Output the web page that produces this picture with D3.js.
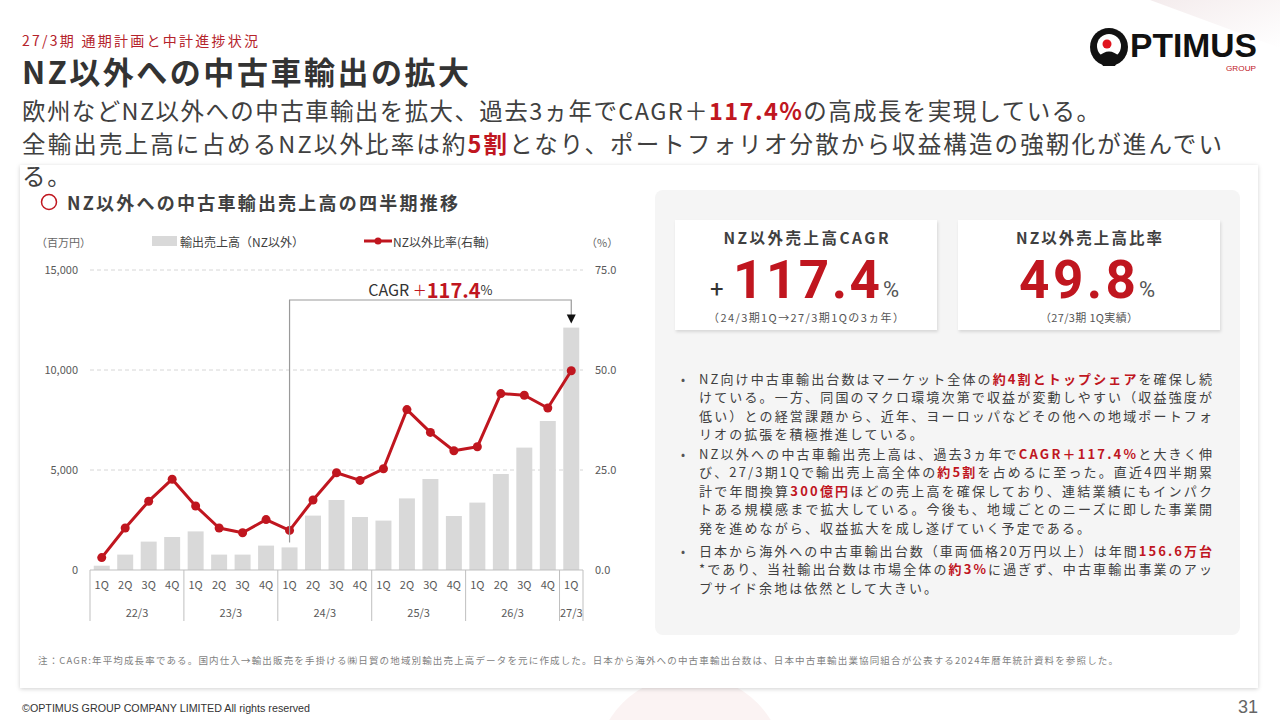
<!DOCTYPE html>
<html><head><meta charset="utf-8">
<script src="https://cdn.jsdelivr.net/npm/d3@7/dist/d3.min.js"></script>
<style>
html,body{margin:0;padding:0;background:#fff;}
svg{display:block;font-family:"Noto Sans CJK JP","Noto Sans",sans-serif;}
</style></head><body>
<svg id="c" width="1280" height="720"></svg>
<script>
// ---------- DATA ----------
const periodYear = ["22/3","22/3","22/3","22/3","23/3","23/3","23/3","23/3","24/3","24/3","24/3","24/3","25/3","25/3","25/3","25/3","26/3","26/3","26/3","26/3","27/3"];
const periodQuarter = ["1Q","2Q","3Q","4Q","1Q","2Q","3Q","4Q","1Q","2Q","3Q","4Q","1Q","2Q","3Q","4Q","1Q","2Q","3Q","4Q","1Q"];
const salesNonNZ = [215, 770, 1420, 1650, 1930, 770, 770, 1220, 1130, 2720, 3500, 2650, 2470, 3580, 4550, 2700, 3370, 4800, 6120, 7450, 12120];
const ratioNonNZ = [3.1, 10.5, 17.2, 22.7, 16.0, 10.5, 9.3, 12.6, 9.9, 17.5, 24.3, 22.4, 25.3, 40.1, 34.4, 29.8, 30.8, 44.1, 43.7, 40.5, 49.8];
const leftTicks = [0, 5000, 10000, 15000];
const rightTicks = [0, 25, 50, 75];
const legendLabels = ["輸出売上高（NZ以外）", "NZ以外比率(右軸)"];
const cagrStartIndex = 8, cagrEndIndex = 20;
const kpiTitles = ["NZ以外売上高CAGR", "NZ以外売上高比率"];
const kpiValues = ["117.4", "49.8"];
const kpiNotes = ["（24/3期1Q→27/3期1Qの3ヵ年）", "（27/3期 1Q実績）"];
const headerLabel = "27/3期 通期計画と中計進捗状況";
const pageTitle = "NZ以外への中古車輸出の拡大";
const subtitleLines = ["欧州などNZ以外への中古車輸出を拡大、過去3ヵ年でCAGR＋[117.4%]の高成長を実現している。",
  "全輸出売上高に占めるNZ以外比率は約[5割]となり、ポートフォリオ分散から収益構造の強靭化が進んでい", "る。"];
const chartTitle = "NZ以外への中古車輸出売上高の四半期推移";
const bullets = [
  ["NZ向け中古車輸出台数はマーケット全体の[約4割とトップシェア]を確保し続",
   "けている。一方、同国のマクロ環境次第で収益が変動しやすい（収益強度が",
   "低い）との経営課題から、近年、ヨーロッパなどその他への地域ポートフォ",
   "リオの拡張を積極推進している。"],
  ["NZ以外への中古車輸出売上高は、過去3ヵ年で[CAGR＋117.4%]と大きく伸",
   "び、27/3期1Qで輸出売上高全体の[約5割]を占めるに至った。直近4四半期累",
   "計で年間換算[300億円]ほどの売上高を確保しており、連結業績にもインパク",
   "トある規模感まで拡大している。今後も、地域ごとのニーズに即した事業開",
   "発を進めながら、収益拡大を成し遂げていく予定である。"],
  ["日本から海外への中古車輸出台数（車両価格20万円以上）は年間[156.6万台]",
   "*であり、当社輸出台数は市場全体の[約3%]に過ぎず、中古車輸出事業のアッ",
   "プサイド余地は依然として大きい。"]
];
const noteText = "注：CAGR:年平均成長率である。国内仕入→輸出販売を手掛ける㈱日貿の地域別輸出売上高データを元に作成した。日本から海外への中古車輸出台数は、日本中古車輸出業協同組合が公表する2024年暦年統計資料を参照した。";
const footerText = "©OPTIMUS GROUP COMPANY LIMITED All rights reserved";
const pageNumber = "31";

// ---------- HELPERS ----------
const RED = "#c0161f", TXT = "#404040";
const svg = d3.select("#c");
const defs = svg.append("defs");
const f = defs.append("filter").attr("id","sh").attr("x","-5%").attr("y","-5%").attr("width","110%").attr("height","110%");
f.append("feDropShadow").attr("dx",0).attr("dy",1).attr("stdDeviation",2).attr("flood-color","#000").attr("flood-opacity",0.18);
const f2 = defs.append("filter").attr("id","sh2").attr("x","-5%").attr("y","-5%").attr("width","110%").attr("height","115%");
f2.append("feDropShadow").attr("dx",1).attr("dy",2).attr("stdDeviation",1.5).attr("flood-color","#000").attr("flood-opacity",0.12);
const lg = defs.append("linearGradient").attr("id","tr").attr("x1",0).attr("y1",0).attr("x2",1).attr("y2",1);
lg.append("stop").attr("offset","0").attr("stop-color","#f4eced");
lg.append("stop").attr("offset","1").attr("stop-color","#ffffff");

function rich(g, x, y, str, o) {
  const t = g.append("text").attr("x", x).attr("y", y)
    .attr("dominant-baseline","central")
    .attr("font-size", o.size).attr("fill", o.color || TXT)
    .attr("font-weight", o.weight || 400);
  if (o.anchor) t.attr("text-anchor", o.anchor);
  const parts = str.split(/(\[[^\]]*\])/).filter(s => s.length);
  parts.forEach(p => {
    if (p[0] === "[") t.append("tspan").attr("fill", RED).attr("font-weight", 700).text(p.slice(1,-1));
    else t.append("tspan").text(p);
  });
  return t;
}
function fitLen(t, len) {
  t.attr("textLength", len).attr("lengthAdjust","spacing");
}
function plainLen(str){ return str.replace(/[\[\]]/g,"").length; }

// ---------- BACKGROUND ----------
svg.append("polygon").attr("points","1150,0 1280,0 1280,48").attr("fill","url(#tr)");
svg.append("circle").attr("cx",690).attr("cy",770).attr("r",95).attr("fill","#fbf3f3");
svg.append("rect").attr("x",20).attr("y",165).attr("width",1238).attr("height",523)
  .attr("fill","#fff").attr("filter","url(#sh)");

// ---------- HEADER ----------
const hdr = svg.append("g");
fitLen(rich(hdr, 22, 40, headerLabel, {size:14, color:"#b5232b"}), 236);
fitLen(rich(hdr, 22, 70, pageTitle, {size:31, weight:700, color:"#333"}), 447);
const s1 = rich(hdr, 22, 110, subtitleLines[0], {size:23.5});
const s2 = rich(hdr, 22, 143, subtitleLines[1], {size:23.5});
const n1 = s1.node().getComputedTextLength(), n2 = s2.node().getComputedTextLength();
fitLen(s1, 1078); fitLen(s2, 1200);
const sp = ((1078-n1)/plainLen(subtitleLines[0]) + (1200-n2)/plainLen(subtitleLines[1]))/2;
rich(hdr, 22, 175, subtitleLines[2], {size:23.5}).attr("letter-spacing", sp);

// logo
const logo = svg.append("g");
logo.append("circle").attr("cx",1109).attr("cy",47).attr("r",19).attr("fill","#111");
logo.append("circle").attr("cx",1109).attr("cy",46).attr("r",12).attr("fill","#fff");
logo.append("circle").attr("cx",1107).attr("cy",44).attr("r",4.5).attr("fill","#e0141e");
logo.append("path").attr("d","M1098,57 Q1109,46 1120,57 L1115,66 L1103,66 Z").attr("fill","#111");
logo.append("text").attr("x",1130).attr("y",57).attr("font-family","'Liberation Sans',sans-serif")
  .attr("font-weight",700).attr("font-size",33).attr("fill","#111").text("PTIMUS")
  .attr("textLength",127).attr("lengthAdjust","spacingAndGlyphs");
logo.append("text").attr("x",1226).attr("y",71).attr("font-family","'Liberation Sans',sans-serif")
  .attr("font-size",7.5).attr("fill","#c0161f").text("GROUP").attr("textLength",30).attr("lengthAdjust","spacingAndGlyphs");

// ---------- CHART ----------
const cg = svg.append("g");
cg.append("circle").attr("cx",49).attr("cy",202).attr("r",7.5).attr("fill","none").attr("stroke",RED).attr("stroke-width",1.5);
fitLen(rich(cg, 67, 202, chartTitle, {size:18, weight:700, color:"#404040"}), 391);

const n = salesNonNZ.length;
const x = d3.scaleBand().domain(d3.range(n)).range([90,583]).paddingInner(0.32).paddingOuter(0.16);
const yL = d3.scaleLinear().domain([0,15000]).range([570,270]);
const yR = d3.scaleLinear().domain([0,75]).range([570,270]);
const cx = i => x(i) + x.bandwidth()/2;

cg.append("g").selectAll("line").data(leftTicks.filter(d=>d>0)).join("line")
  .attr("x1",90).attr("x2",583).attr("y1",d=>yL(d)).attr("y2",d=>yL(d))
  .attr("stroke","#d6d6d6").attr("stroke-dasharray","4,3");

const axL = cg.append("g").attr("transform","translate(90,0)")
  .call(d3.axisLeft(yL).tickValues(leftTicks).tickSize(0).tickPadding(12).tickFormat(d3.format(",")));
const axR = cg.append("g").attr("transform","translate(583,0)")
  .call(d3.axisRight(yR).tickValues(rightTicks).tickSize(0).tickPadding(12).tickFormat(d3.format(".1f")));
const axB = cg.append("g").attr("transform","translate(0,570)")
  .call(d3.axisBottom(x).tickSize(0).tickPadding(11).tickFormat(i=>periodQuarter[i]));
[axL,axR,axB].forEach(a=>{
  a.select(".domain").remove();
  a.selectAll("text").attr("font-size",11).attr("fill","#595959")
    .attr("font-family","'Noto Sans CJK JP',sans-serif");
});

cg.append("g").selectAll("rect").data(salesNonNZ).join("rect")
  .attr("x",(d,i)=>x(i)).attr("width",x.bandwidth())
  .attr("y",d=>yL(d)).attr("height",d=>570-yL(d)).attr("fill","#d9d9d9");

cg.append("line").attr("x1",90).attr("x2",583).attr("y1",570).attr("y2",570).attr("stroke","#bfbfbf");
const step = x.step();
const groups = [];
periodYear.forEach((y,i)=>{
  if (!groups.length || groups[groups.length-1].name !== y) groups.push({name:y, start:i, end:i});
  else groups[groups.length-1].end = i;
});
const seps = groups.map(g => x(g.start) - step*x.paddingInner()/2);
seps.push(583);
cg.append("g").selectAll("line").data(seps).join("line")
  .attr("x1",d=>d).attr("x2",d=>d).attr("y1",570).attr("y2",621).attr("stroke","#bfbfbf");
cg.append("g").selectAll("text").data(groups).join("text")
  .attr("x",g=>(cx(g.start)+cx(g.end))/2).attr("y",612).attr("dominant-baseline","central")
  .attr("text-anchor","middle").attr("font-size",11).attr("fill","#595959").text(g=>g.name);

cg.append("path").datum(ratioNonNZ)
  .attr("d", d3.line().x((d,i)=>cx(i)).y(d=>yR(d)))
  .attr("fill","none").attr("stroke",RED).attr("stroke-width",3).attr("stroke-linejoin","round");
cg.append("g").selectAll("circle").data(ratioNonNZ).join("circle")
  .attr("cx",(d,i)=>cx(i)).attr("cy",d=>yR(d)).attr("r",4.5).attr("fill",RED);

cg.append("text").attr("x",36).attr("y",242).attr("dominant-baseline","central").attr("font-size",11).attr("fill","#666").text("（百万円）");
cg.append("text").attr("x",586).attr("y",242).attr("dominant-baseline","central").attr("font-size",11).attr("fill","#666").text("（%）");
cg.append("rect").attr("x",152).attr("y",236).attr("width",25).attr("height",10).attr("fill","#d9d9d9");
cg.append("text").attr("x",180).attr("y",241).attr("dominant-baseline","central").attr("font-size",12).attr("fill","#404040").text(legendLabels[0]);
cg.append("line").attr("x1",364).attr("x2",392).attr("y1",241).attr("y2",241).attr("stroke",RED).attr("stroke-width",3);
cg.append("circle").attr("cx",378).attr("cy",241).attr("r",3.5).attr("fill",RED);
cg.append("text").attr("x",393).attr("y",241).attr("dominant-baseline","central").attr("font-size",12).attr("fill","#404040").text(legendLabels[1]);

const bx1 = cx(cagrStartIndex), bx2 = cx(cagrEndIndex), by = 300;
const tipY = yL(salesNonNZ[cagrEndIndex]) - 4;
cg.append("path").attr("d",`M${bx1},${yL(salesNonNZ[cagrStartIndex])-5}V${by}H${bx2}V${tipY-7}`)
  .attr("fill","none").attr("stroke","#9a9a9a").attr("stroke-width",1.2);
cg.append("path").attr("d",`M${bx2-4.5},${tipY-9}L${bx2+4.5},${tipY-9}L${bx2},${tipY}Z`).attr("fill","#111");
const ct = cg.append("text").attr("x",(bx1+bx2)/2).attr("y",289).attr("dominant-baseline","central").attr("text-anchor","middle");
ct.append("tspan").attr("font-size",16).attr("fill","#333").text("CAGR ");
ct.append("tspan").attr("font-size",14).attr("fill",RED).text("＋");
ct.append("tspan").attr("font-size",20).attr("font-weight",700).attr("fill",RED).text("117.4");
ct.append("tspan").attr("font-size",13).attr("fill","#333").text("%");

// ---------- RIGHT PANEL ----------
const rp = svg.append("g");
rp.append("rect").attr("x",655).attr("y",190).attr("width",585).attr("height",445).attr("rx",8).attr("fill","#f5f5f5");
const kx = [675, 958];
const titleW = [165, 146], noteW = [196, 98];
kx.forEach((bx,k)=>{
  rp.append("rect").attr("x",bx).attr("y",220).attr("width",262).attr("height",110).attr("fill","#fff").attr("filter","url(#sh2)");
  const mid = bx+131;
  fitLen(rich(rp, mid, 237, kpiTitles[k], {size:15.5, weight:700, color:"#404040", anchor:"middle"}), titleW[k]);
  fitLen(rich(rp, mid, 317, kpiNotes[k], {size:11, color:"#555", anchor:"middle"}), noteW[k]);
});
const bigFont = "'Roboto','Liberation Sans',sans-serif";
rp.append("text").attr("x",710).attr("y",297).attr("font-family",bigFont).attr("font-size",24).attr("fill","#333").text("+");
fitLen(rp.append("text").attr("x",733).attr("y",298).attr("font-family",bigFont).attr("font-size",53).attr("font-weight",700).attr("fill",RED).text(kpiValues[0]), 147);
rp.append("text").attr("x",883).attr("y",297).attr("font-family",bigFont).attr("font-size",22).attr("fill","#555").text("%");
fitLen(rp.append("text").attr("x",1019).attr("y",298).attr("font-family",bigFont).attr("font-size",53).attr("font-weight",700).attr("fill",RED).text(kpiValues[1]), 117);
rp.append("text").attr("x",1139).attr("y",297).attr("font-family",bigFont).attr("font-size",22).attr("fill","#555").text("%");

const startY = [378, 453, 550];
const LH = 18.4, LW = 513;
bullets.forEach((lines,bi)=>{
  rp.append("text").attr("x",681).attr("y",startY[bi]).attr("dominant-baseline","central").attr("font-size",12).attr("fill","#555").text("•");
  let spSum = 0, spN = 0;
  lines.forEach((ln,li)=>{
    const t = rich(rp, 699, startY[bi]+li*LH, ln, {size:13, color:"#404040"});
    if (li < lines.length-1) {
      const nat = t.node().getComputedTextLength();
      spSum += (LW-nat)/plainLen(ln); spN++;
      fitLen(t, LW);
    } else {
      t.attr("letter-spacing", spN ? spSum/spN : 1.5);
    }
  });
});

// ---------- FOOTER ----------
fitLen(svg.append("text").attr("x",38).attr("y",660).attr("dominant-baseline","central")
  .attr("font-size",9.5).attr("fill","#7f7f7f").text(noteText), 1080);
svg.append("text").attr("x",22).attr("y",708).attr("dominant-baseline","central")
  .attr("font-family","'Liberation Sans Narrow','Liberation Sans',sans-serif")
  .attr("font-size",10.5).attr("fill","#333").text(footerText)
  .attr("textLength",288).attr("lengthAdjust","spacingAndGlyphs");
svg.append("text").attr("x",1258).attr("y",707).attr("dominant-baseline","central").attr("text-anchor","end")
  .attr("font-family","'Liberation Sans Narrow','Liberation Sans',sans-serif")
  .attr("font-size",18).attr("fill","#666").text(pageNumber);
</script>
</body></html>
